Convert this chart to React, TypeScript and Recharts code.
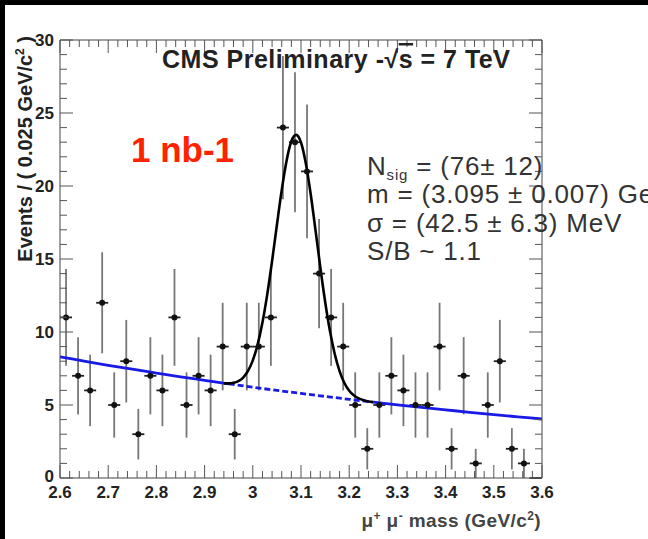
import React from 'react'
import { ComposedChart, XAxis, YAxis, Scatter, Line, ErrorBar } from 'recharts'

// dimuon mass histogram, 0.025 GeV bins from 2.6 to 3.6
const BIN_WIDTH = 0.025
const MASS_MIN = 2.6
const COUNTS = [11, 7, 6, 12, 5, 8, 3, 7, 6, 11, 5, 7, 6, 9, 3, 9, 9, 11, 24, 23, 21, 14, 11, 9, 5, 2, 5, 7, 6, 5, 5, 9, 2, 7, 1, 5, 8, 2, 1, 0]

// background fit (blue)
const BKG_MASS = [2.6, 2.65, 2.7, 2.75, 2.8, 2.85, 2.9, 2.95, 3.0, 3.05, 3.1, 3.15, 3.2, 3.25, 3.3, 3.35, 3.4, 3.45, 3.5, 3.55, 3.6]
const BKG_VALUES = [8.3, 8.01, 7.72, 7.45, 7.19, 6.93, 6.69, 6.45, 6.22, 6.0, 5.79, 5.59, 5.39, 5.2, 5.01, 4.84, 4.67, 4.5, 4.34, 4.19, 4.04]

// signal + background fit (black), peak region only
const FIT_MASS = [2.94, 2.95, 2.96, 2.97, 2.98, 2.99, 3.0, 3.01, 3.02, 3.03, 3.04, 3.05, 3.06, 3.07, 3.08, 3.09, 3.1, 3.11, 3.12, 3.13, 3.14, 3.15, 3.16, 3.17, 3.18, 3.19, 3.2, 3.21, 3.22, 3.23, 3.24, 3.25]
const FIT_VALUES = [6.48, 6.48, 6.52, 6.64, 6.88, 7.33, 8.06, 9.14, 10.65, 12.58, 14.86, 17.33, 19.72, 21.72, 23.06, 23.5, 22.98, 21.55, 19.47, 17.0, 14.45, 12.09, 10.08, 8.49, 7.32, 6.51, 5.98, 5.65, 5.45, 5.33, 5.24, 5.19]

const X_TICKS = Array.from({ length: 51 }, (_, i) => +(2.6 + i * 0.02).toFixed(2))
const Y_TICKS = Array.from({ length: 31 }, (_, i) => i)

const points = COUNTS.map((n, i) => ({
  x: MASS_MIN + BIN_WIDTH * (i + 0.5),
  y: n,
  ex: BIN_WIDTH / 2,
  ey: Math.sqrt(n),
}))
const bkg = BKG_MASS.map((x, i) => ({ x, y: BKG_VALUES[i] }))
const bkgLeft = bkg.filter(p => p.x <= 2.95)
const bkgMid = bkg.filter(p => p.x >= 2.95 && p.x <= 3.25)
const bkgRight = bkg.filter(p => p.x >= 3.25)
const fit = FIT_MASS.map((x, i) => ({ x, y: FIT_VALUES[i] }))

const TICK = '#555'
const FONT = '"Liberation Sans", Arial, Helvetica, sans-serif'

const isMajorX = (v: number) => Math.abs(v * 10 - Math.round(v * 10)) < 1e-6
const isMajorY = (v: number) => v % 5 === 0

const BottomTick = ({ x, y, payload }: any) => {
  const major = isMajorX(payload.value)
  return (
    <g>
      <line x1={x} x2={x} y1={y} y2={y - (major ? 13 : 7)} stroke={TICK} />
      {major && (
        <text x={x} y={y + 20} textAnchor="middle" fontSize={17} fontWeight={700} fill="#222" fontFamily={FONT}>
          {String(Math.round(payload.value * 10) / 10)}
        </text>
      )}
    </g>
  )
}

const TopTick = ({ x, y, payload }: any) => {
  const major = isMajorX(payload.value)
  return <line x1={x} x2={x} y1={y} y2={y + (major ? 13 : 7)} stroke={TICK} />
}

const LeftTick = ({ x, y, payload }: any) => {
  const major = isMajorY(payload.value)
  return (
    <g>
      <line x1={x} x2={x + (major ? 13 : 7)} y1={y} y2={y} stroke={TICK} />
      {major && (
        <text x={x - 6} y={y + (payload.value === 0 ? 4 : 6)} textAnchor="end" fontSize={17} fontWeight={700} fill="#222" fontFamily={FONT}>
          {payload.value}
        </text>
      )}
    </g>
  )
}

const RightTick = ({ x, y, payload }: any) => {
  const major = isMajorY(payload.value)
  return <line x1={x} x2={x - (major ? 13 : 7)} y1={y} y2={y} stroke={TICK} />
}

const Marker = (p: any) => (p.payload && p.payload.y > 0 ? <circle cx={p.cx} cy={p.cy} r={3} fill="#111" /> : <g />)

export default function App() {
  return (
    <div style={{ position: 'fixed', left: 0, top: 0, width: 648, height: 539, background: '#fff', overflow: 'hidden' }}>
      <div style={{ position: 'absolute', left: 0, top: 0, width: 648, height: 5, background: '#000' }} />
      <div style={{ position: 'absolute', left: 0, top: 0, width: 5, height: 539, background: '#000' }} />
      <div style={{ position: 'absolute', left: 0, top: 0 }}>
        <ComposedChart width={648} height={539} margin={{ top: 39, right: 105, bottom: 31, left: 5 }}>
          <XAxis
            type="number"
            dataKey="x"
            domain={[2.6, 3.6]}
            ticks={X_TICKS}
            interval={0}
            height={30}
            tickSize={0}
            tickMargin={0}
            tickLine={false}
            axisLine={{ stroke: '#444' }}
            tick={(p: any) => <BottomTick {...p} />}
            allowDataOverflow
          />
          <XAxis
            xAxisId="top"
            orientation="top"
            type="number"
            dataKey="x"
            domain={[2.6, 3.6]}
            ticks={X_TICKS}
            interval={0}
            height={1}
            tickSize={0}
            tickMargin={0}
            tickLine={false}
            axisLine={{ stroke: '#444' }}
            tick={(p: any) => <TopTick {...p} />}
            allowDataOverflow
          />
          <YAxis
            type="number"
            domain={[0, 30]}
            ticks={Y_TICKS}
            interval={0}
            width={55}
            tickSize={0}
            tickMargin={0}
            tickLine={false}
            axisLine={{ stroke: '#444' }}
            tick={(p: any) => <LeftTick {...p} />}
            allowDataOverflow
          />
          <YAxis
            yAxisId="right"
            orientation="right"
            type="number"
            domain={[0, 30]}
            ticks={Y_TICKS}
            interval={0}
            width={1}
            tickSize={0}
            tickMargin={0}
            tickLine={false}
            axisLine={{ stroke: '#444' }}
            tick={(p: any) => <RightTick {...p} />}
            allowDataOverflow
          />
          <Scatter data={points} dataKey="y" shape={Marker} isAnimationActive={false}>
            <ErrorBar dataKey="ey" direction="y" width={0} stroke="#777" strokeWidth={1.8} />
            <ErrorBar dataKey="ex" direction="x" width={0} stroke="#222" strokeWidth={1.8} />
          </Scatter>
          <Line data={bkgLeft} dataKey="y" type="monotone" stroke="#1a1ae6" strokeWidth={2.8} dot={false} isAnimationActive={false} />
          <Line data={bkgMid} dataKey="y" type="monotone" stroke="#1a1ae6" strokeWidth={2.8} strokeDasharray="6 3" dot={false} isAnimationActive={false} />
          <Line data={bkgRight} dataKey="y" type="monotone" stroke="#1a1ae6" strokeWidth={2.8} dot={false} isAnimationActive={false} />
          <Line data={fit} dataKey="y" type="monotone" stroke="#000" strokeWidth={2.6} dot={false} isAnimationActive={false} />
        </ComposedChart>
      </div>
      <svg width={648} height={539} style={{ position: 'absolute', left: 0, top: 0, pointerEvents: 'none' }} fontFamily={FONT}>
        <text x={162} y={68} fontSize={25} fontWeight={700} fill="#222" letterSpacing={0.5}>
          CMS Preliminary -√<tspan style={{ textDecoration: 'overline' }}>s</tspan> = 7 TeV
        </text>
        <text x={131} y={162} fontSize={35} fontWeight={700} fill="#ff2200">1 nb-1</text>
        <g fontSize={26} fill="#333" letterSpacing={0.8}>
          <text x={367} y={175}>
            N<tspan fontSize={15} dy={5}>sig</tspan><tspan dy={-5}> = (76± 12)</tspan>
          </text>
          <text x={367} y={203}>m = (3.095 ± 0.007) GeV/c²</text>
          <text x={367} y={232}>σ = (42.5 ± 6.3) MeV</text>
          <text x={367} y={260}>S/B ~ 1.1</text>
        </g>
        <text transform="translate(32,36) rotate(-90)" textAnchor="end" fontSize={20} fontWeight={700} fill="#222">
          Events / ( 0.025 GeV/c<tspan fontSize={12} dy={-8}>2</tspan><tspan dy={8}> )</tspan>
        </text>
        <text x={541} y={527} textAnchor="end" fontSize={19} fontWeight={700} fill="#444" letterSpacing={0.4}>
          μ<tspan fontSize={12} dy={-7}>+</tspan><tspan dy={7}> μ</tspan><tspan fontSize={12} dy={-7}>-</tspan><tspan dy={7}> mass (GeV/c</tspan><tspan fontSize={12} dy={-7}>2</tspan><tspan dy={7}>)</tspan>
        </text>
      </svg>
    </div>
  )
}
